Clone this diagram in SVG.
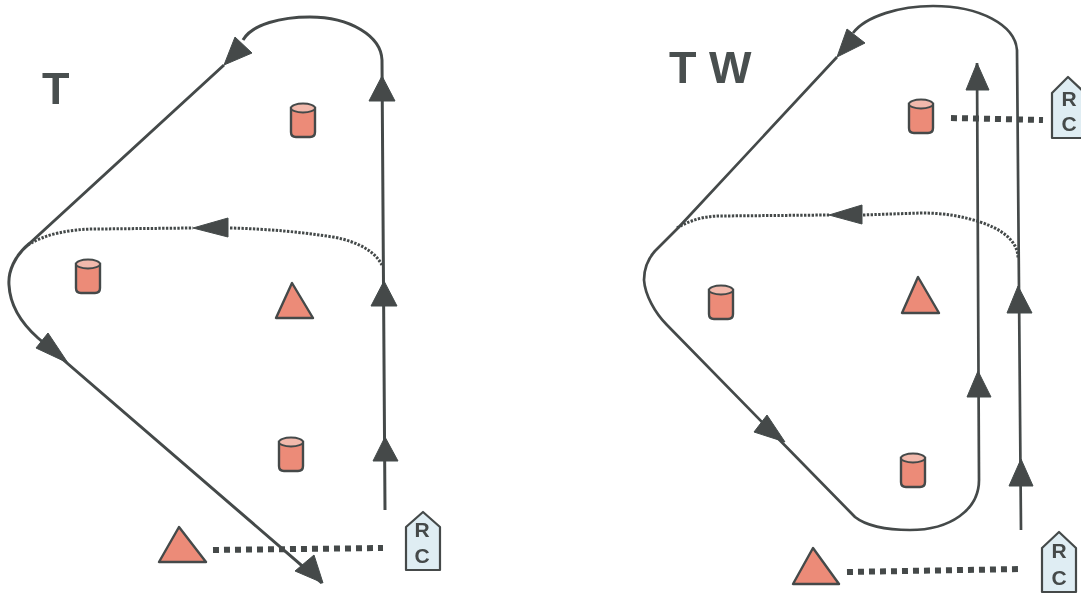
<svg xmlns="http://www.w3.org/2000/svg" xmlns:xlink="http://www.w3.org/1999/xlink" width="1081" height="593" viewBox="0 0 1081 593">
<style>
.line{fill:none;stroke:#444a4a;stroke-width:3;stroke-linejoin:round;stroke-linecap:butt}
.thin{stroke-width:2.7}
.dot{fill:none;stroke:#444a4a;stroke-width:3;stroke-dasharray:2.4 1.4}
.thick{fill:none;stroke:#444a4a;stroke-width:6;stroke-dasharray:6 5}
.head{fill:#444a4a;stroke:#444a4a;stroke-width:1;stroke-linejoin:round}
.tri{fill:#ec8b78;stroke:#444a4a;stroke-width:2.4;stroke-linejoin:round}
.body{fill:#ec8b78;stroke:#444a4a;stroke-width:2.4}
.top{fill:#f2b9ac;stroke:#444a4a;stroke-width:1.8}
.tag{fill:#dfedf3;stroke:#444a4a;stroke-width:2.2;stroke-linejoin:round}
.title{font-family:"Liberation Sans",Arial,sans-serif;font-weight:bold;font-size:45px;fill:#4a4f4f}
.rc{font-family:"Liberation Sans",Arial,sans-serif;font-weight:bold;font-size:21px;fill:#444a4a;text-anchor:middle}
</style>
<defs>
<filter id="soft" x="0" y="0" width="1081" height="593" filterUnits="userSpaceOnUse"><feGaussianBlur stdDeviation="0.5"/></filter>
<g id="cyl">
<path class="body" d="M0 5V29Q0 34 5 34H19Q24 34 24 29V5Z"/>
<ellipse class="top" cx="12" cy="5" rx="12" ry="4.5"/>
</g>
</defs>
<rect width="1081" height="593" fill="#fff"/>
<g filter="url(#soft)">
<g id="connectors">
<path class="line" d="M385 510L382 60C381 36 350 17 310 17C282 17 252 24 243 40"/>
<path class="line" d="M224 65L30 243C14 256 8 272 9 285C10 305 20 322 38 338L322 583"/>
<path class="dot" d="M28 245C45 234 70 229 97 229L193 228"/>
<path class="dot" d="M230 228C270 229 300 232 333 237C360 242 375 252 382 265"/>
<path class="thick" d="M213 550L383 548"/>
<polygon class="head" points="235,37 252,53 224,65"/>
<polygon class="head" points="48,333 36,348 68,363"/>
<polygon class="head" points="323,583 314,555 295,571"/>
<polygon class="head" points="382,76 369,101 395,101"/>
<polygon class="head" points="384,281 371,306 397,306"/>
<polygon class="head" points="385,437 373,461 398,461"/>
<polygon class="head" points="193,228 228,218 228,237"/>

<path class="line thin" d="M1021 530L1017 50C1015 25 980 6 933 6C900 6 866 16 853 33"/>
<path class="line thin" d="M837 57L678 228L655 251C647 260 644 270 644 280C645 295 655 313 667 325L855 517C865 525 885 530 910 530C950 530 979 510 979 480L977 63"/>
<path class="dot" d="M677 228C690 220 705 216 720 216L829 215"/>
<path class="dot" d="M863 215L920 213C945 213 960 216 977 221C1000 228 1018 240 1018 258"/>
<path class="thick" d="M951 118L1043 120"/>
<path class="thick" d="M847 572L1022 569"/>
<polygon class="head" points="847,29 865,43 837,57"/>
<polygon class="head" points="767,415 754,432 785,442"/>
<polygon class="head" points="977,63 966,90 989,90"/>
<polygon class="head" points="978,371 967,397 991,397"/>
<polygon class="head" points="1018,286 1007,313 1032,313"/>
<polygon class="head" points="1021,459 1009,486 1033,486"/>
<polygon class="head" points="829,215 862,205 862,224"/>
</g>
<g id="label-t"><text class="title" x="42" y="104">T</text></g>
<g id="label-tw"><text class="title" x="669" y="83">T W</text></g>
<g id="cyl-l1"><use href="#cyl" xlink:href="#cyl" x="291" y="103"/></g>
<g id="cyl-l2"><use href="#cyl" xlink:href="#cyl" x="76" y="259"/></g>
<g id="cyl-l3"><use href="#cyl" xlink:href="#cyl" x="279" y="437"/></g>
<g id="tri-l1"><polygon class="tri" points="292,283 276,318 313,318"/></g>
<g id="tri-l2"><polygon class="tri" points="179,527 159,562 206,562"/></g>
<g id="rc-l"><path class="tag" d="M423 512L440 527V570H406V527Z"/><text class="rc" x="422" y="537">R</text><text class="rc" x="422" y="563">C</text></g>
<g id="cyl-r1"><use href="#cyl" xlink:href="#cyl" x="909" y="99"/></g>
<g id="cyl-r2"><use href="#cyl" xlink:href="#cyl" x="709" y="285"/></g>
<g id="cyl-r3"><use href="#cyl" xlink:href="#cyl" x="901" y="453"/></g>
<g id="tri-r1"><polygon class="tri" points="918,277 902,313 939,313"/></g>
<g id="tri-r2"><polygon class="tri" points="813,548 793,584 839,584"/></g>
<g id="rc-r1"><path class="tag" d="M1068 77L1085 93V138H1052V93Z"/><text class="rc" x="1069" y="106">R</text><text class="rc" x="1069" y="131">C</text></g>
<g id="rc-r2"><path class="tag" d="M1059 532L1076 548V592H1042V548Z"/><text class="rc" x="1059" y="558">R</text><text class="rc" x="1059" y="585">C</text></g>
</g>
</svg>
